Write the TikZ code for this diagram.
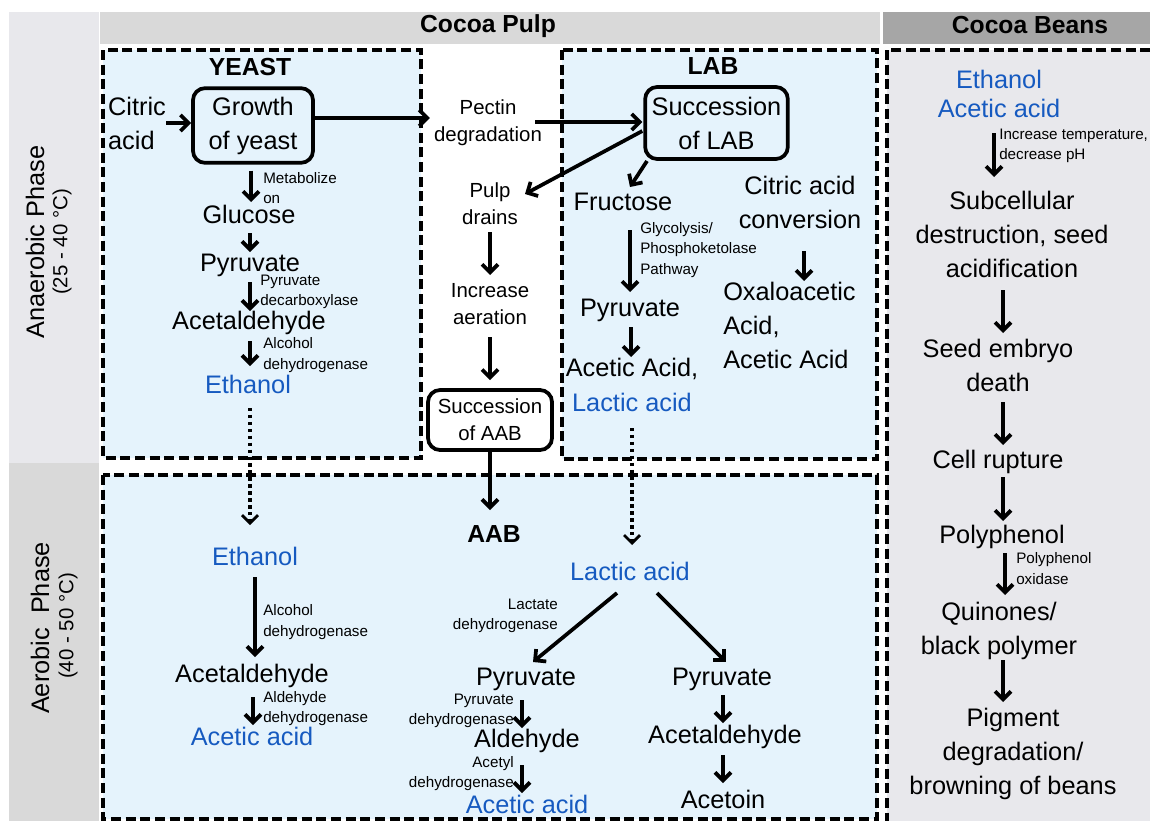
\documentclass[tikz,border=0pt]{standalone}
\usepackage{fontspec}
\setmainfont{Liberation Sans}
\usetikzlibrary{arrows.meta,calc}
\definecolor{bluetxt}{RGB}{22,90,192}
\definecolor{boxfill}{RGB}{229,243,252}
\definecolor{grayA}{RGB}{232,232,236}
\definecolor{grayB}{RGB}{217,217,217}
\definecolor{grayH}{RGB}{166,166,166}
\begin{document}
\begin{tikzpicture}[x=0.75pt,y=-0.75pt,
  bigt/.style={font=\fontsize{19}{25.5}\selectfont, inner sep=0pt, align=center},
  medt/.style={font=\fontsize{15.3}{20.5}\selectfont, inner sep=0pt, align=center},
  smlt/.style={font=\fontsize{11.4}{15.4}\selectfont, inner sep=0pt, align=left, anchor=west},
  smlr/.style={smlt, align=right, anchor=east},
  ttlt/.style={font=\bfseries\fontsize{18.5}{22}\selectfont, inner sep=0pt},
  blu/.style={text=bluetxt},
  rbox/.style={draw, line width=2.8pt, rounded corners=9pt},
  dbox/.style={draw, line width=2.8pt, dash pattern=on 7.5pt off 3.5pt, fill=boxfill},
  arr/.style={line width=2.8pt, -{Straight Barb[length=6pt,width=12pt]}},
  darr/.style={line width=2.8pt, dash pattern=on 2.6pt off 2.6pt, -{Straight Barb[length=6pt,width=12pt,line width=2pt]}}
]
\useasboundingbox (0,0) rectangle (1150,821);
\clip (0,0) rectangle (1150,821);
% backgrounds
\fill[grayB] (100,12) rectangle (880,44);
\fill[grayH] (883,12) rectangle (1150,44);
\fill[grayA] (9,12) rectangle (99,463);
\fill[grayB] (9,463) rectangle (99,821);
% dashed boxes
\draw[dbox] (103,50) rectangle (421,458);
\draw[dbox] (562,50) rectangle (877,459);
\draw[dbox] (103,475) rectangle (877,819);
\draw[dbox, fill=grayA] (887,50) rectangle (1165,835);
% headers
\node[ttlt] (pulpT) at (488,26) {Cocoa Pulp};
\node[ttlt] (beansT) at (1030,25) {Cocoa Beans};
\node[bigt, rotate=90] (anaer) at (35,242) {Anaerobic Phase};
\node[medt, rotate=90] (anaerT) at (62,242) {(25 - 40 °C)};
\node[bigt, rotate=90] (aer) at (40,628) {Aerobic\ \ Phase};
\node[medt, rotate=90] (aerT) at (68,626) {(40 - 50 °C)};
% yeast
\node[ttlt] (yeastT) at (250,67) {YEAST};
\node[bigt, align=left] (citric) at (137,123) {Citric\\acid};
\node[bigt, rbox, minimum width=90pt, minimum height=56pt] (growth) at (253,125.5) {Growth\\of yeast};
\node[smlt] (metab) at (263,188) {Metabolize\\on};
\node[bigt] (glu) at (249,214) {Glucose};
\node[bigt] (pyr1) at (250,265) {Pyruvate};
\node[smlt] (pdc) at (260,292) {Pyruvate\\decarboxylase};
\node[bigt] (acet1) at (249,323) {Acetaldehyde};
\node[smlt] (adh1) at (263,355) {Alcohol\\dehydrogenase};
\node[bigt, blu] (eth1) at (248,384) {Ethanol};
% middle
\node[medt] (pectin) at (488,123) {Pectin\\degradation};
\node[bigt, rbox, minimum width=107pt, minimum height=54pt] (slab) at (716.5,123) {Succession\\of LAB};
\node[medt] (drains) at (490,204) {Pulp\\drains};
\node[medt] (aerat) at (490,304) {Increase\\aeration};
\node[medt, rbox, minimum width=93pt, minimum height=45pt] (saab) at (490,420) {Succession\\of AAB};
\node[ttlt] (aab) at (494,534) {AAB};
% LAB
\node[ttlt] (labT) at (713,66) {LAB};
\node[bigt] (fruc) at (623,202) {Fructose};
\node[bigt] (cac) at (800,202) {Citric acid\\conversion};
\node[smlt] (glyc) at (640,250) {Glycolysis/\\Phosphoketolase\\Pathway};
\node[bigt] (pyr2) at (630,310) {Pyruvate};
\node[bigt] (aacid) at (632,369) {Acetic Acid,};
\node[bigt, blu] (lac1) at (632,402) {Lactic acid};
\node[bigt, align=left, anchor=west] (oxa) at (723,325) {Oxaloacetic\\Acid,\\Acetic Acid};
% aerobic yeast
\node[bigt, blu] (eth2) at (255,556) {Ethanol};
\node[smlt] (adh2) at (263,622) {Alcohol\\dehydrogenase};
\node[bigt] (acet2) at (252,676) {Acetaldehyde};
\node[smlt] (aldh) at (263,708.5) {Aldehyde\\dehydrogenase};
\node[bigt, blu] (aa1) at (252,736) {Acetic acid};
% aerobic AAB
\node[bigt, blu] (lac2) at (630,571) {Lactic acid};
\node[smlr] (ldh) at (558,616) {Lactate\\dehydrogenase};
\node[bigt] (pyr3) at (526,679) {Pyruvate};
\node[bigt] (pyr4) at (722,679) {Pyruvate};
\node[smlr] (pdh) at (514,711) {Pyruvate\\dehydrogenase};
\node[bigt] (ald) at (527,741) {Aldehyde};
\node[smlr] (acdh) at (514,773.5) {Acetyl\\dehydrogenase};
\node[bigt, blu] (aa2) at (527,804) {Acetic acid};
\node[bigt] (acet3) at (725,737) {Acetaldehyde};
\node[bigt] (acetoin) at (723,799) {Acetoin};
% beans
\node[bigt, blu, font=\fontsize{19}{21.75}\selectfont] (bean1) at (999,93.5) {Ethanol\\Acetic acid};
\node[smlt] (incT) at (999,146) {Increase temperature,\\decrease pH};
\node[bigt] (subc) at (1012,234) {Subcellular\\destruction, seed\\acidification};
\node[bigt] (seed) at (998,365) {Seed embryo\\death};
\node[bigt] (cell) at (998,462) {Cell rupture};
\node[bigt] (poly) at (1002,537) {Polyphenol};
\node[smlt] (ppo) at (1016,568.5) {Polyphenol\\oxidase};
\node[bigt] (quin) at (999,631) {Quinones/\\black polymer};
\node[bigt] (pig) at (1013,754) {Pigment\\degradation/\\browning of beans};
% arrows top
\draw[arr] (citric.east) -- (citric.east -| growth.west);
\draw[arr] ($(growth.east)+(0,-7.5)$) -- ($(pectin.west)+(-4,-5)$);
\draw[arr] ($(pectin.east)+(-7,-1)$) -- ($(slab.west)+(-1,-1)$);
\draw[arr] ($(slab.west)+(-1,8)$) -- ($(drains)+(35,-10)$);
\draw[arr] ($(slab)+(-69.5,38)$) -- ($(fruc)+(7,-15)$);
\draw[arr] ($(drains)+(0,28)$) -- ($(aerat)+(0,-29)$);
\draw[arr] ($(aerat)+(0,33)$) -- ($(saab.north)+(0,-8)$);
\draw[arr] (saab.south) -- ($(aab)+(-4,-24)$);
% yeast chain
\draw[arr] ($(growth.south)+(-2,6)$) -- ($(glu)+(2,-12)$);
\draw[arr] ($(glu)+(1,19)$) -- ($(pyr1)+(0,-13)$);
\draw[arr] ($(pyr1)+(0,17)$) -- ($(acet1)+(1,-12)$);
\draw[arr] ($(acet1)+(1,18)$) -- ($(eth1)+(2,-18)$);
\draw[darr] ($(eth1)+(2,24)$) -- ($(eth2)+(-5,-31)$);
\draw[arr] ($(eth2)+(0,21)$) -- ($(acet2)+(3,-19)$);
\draw[arr] ($(acet2)+(1,21)$) -- ($(aa1)+(1,-11)$);
% LAB chain
\draw[arr] ($(fruc)+(7,28)$) -- ($(pyr2)+(0,-18)$);
\draw[arr] ($(pyr2)+(1,17)$) -- ($(aacid)+(-1,-12)$);
\draw[arr] ($(cac)+(4,49)$) -- ($(oxa.west)+(81,-44)$);
\draw[darr] ($(lac1)+(0,26)$) -- ($(lac2)+(2,-26)$);
% aerobic AAB chain
\draw[arr] ($(lac2)+(-13,22)$) -- ($(pyr3)+(7,-17)$);
\draw[arr] ($(lac2)+(27,22)$) -- ($(pyr4)+(4,-17)$);
\draw[arr] ($(pyr3)+(-4,21)$) -- ($(ald)+(-5,-13)$);
\draw[arr] ($(ald)+(-5,24)$) -- ($(aa2)+(-5,-11)$);
\draw[arr] ($(pyr4)+(1,16)$) -- ($(acet3)+(-2,-14)$);
\draw[arr] ($(acet3)+(-2,18)$) -- ($(acetoin)+(0,-16)$);
% beans chain
\draw[arr] ($(bean1)+(-5,39.5)$) -- ($(subc)+(-18,-57)$);
\draw[arr] ($(subc)+(-9,56)$) -- ($(seed)+(5,-32)$);
\draw[arr] ($(seed)+(5,37)$) -- ($(cell)+(5,-17)$);
\draw[arr] ($(cell)+(5,15)$) -- ($(poly)+(1,-16)$);
\draw[arr] ($(poly)+(3,16)$) -- ($(quin)+(6,-36)$);
\draw[arr] ($(quin)+(4,29)$) -- ($(pig)+(-10,-52)$);
\end{tikzpicture}
\end{document}
